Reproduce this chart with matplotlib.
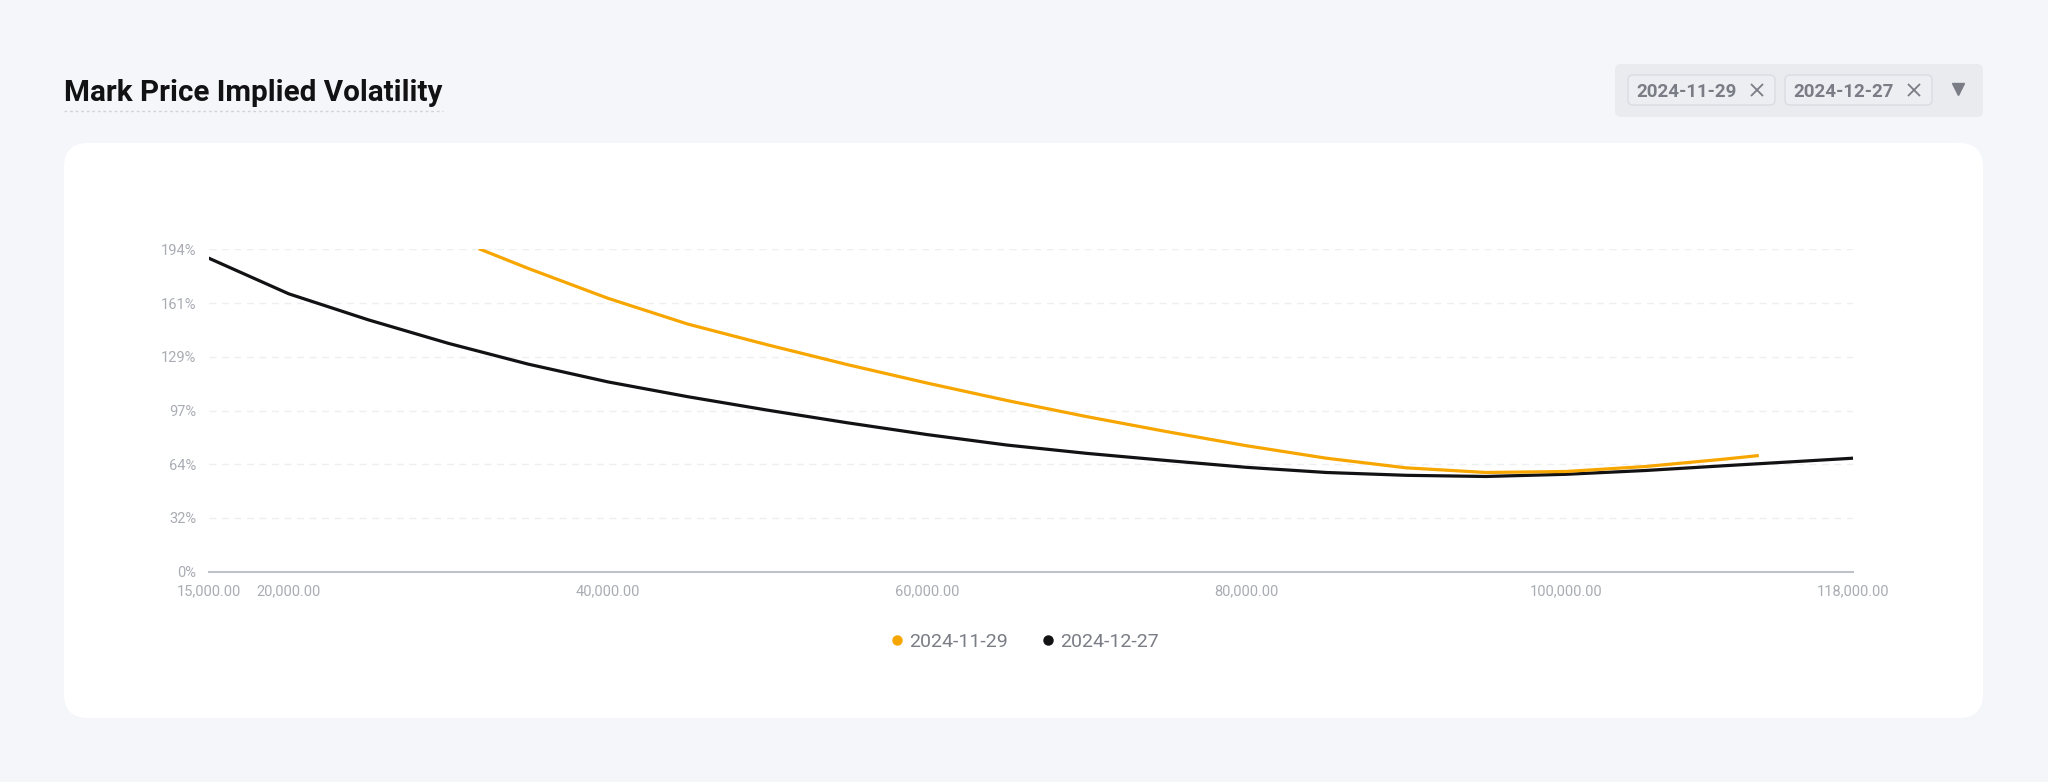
import matplotlib
matplotlib.use("Agg")
import matplotlib.pyplot as plt
from matplotlib.patches import FancyBboxPatch
from matplotlib.lines import Line2D

# strike prices and implied vol (%)
strikes_dec = [15000, 20000, 25000, 30000, 35000, 40000, 45000, 50000, 55000, 60000,
               65000, 70000, 75000, 80000, 85000, 90000, 95000, 100000, 105000, 110000,
               115000, 118000]
iv_dec = [188.6, 167.2, 151.5, 137.4, 124.9, 114.2, 105.3, 97.2, 89.6, 82.5,
          76.2, 71.2, 66.9, 62.8, 59.7, 58.0, 57.3, 58.6, 60.9, 63.8,
          66.6, 68.3]

strikes_nov = [32000, 35000, 40000, 45000, 50000, 55000, 60000, 65000, 70000, 75000,
               80000, 85000, 90000, 95000, 100000, 105000, 110000, 112000]
iv_nov = [194.0, 182.5, 164.5, 149.0, 136.5, 124.6, 113.5, 103.0, 93.3, 84.3,
          75.8, 68.3, 62.5, 59.7, 60.3, 63.3, 67.8, 69.8]

series_names = ["2024-11-29", "2024-12-27"]
series_colors = ["#F7A600", "#121214"]

y_ticks = [0, 32.33, 64.67, 97, 129.33, 161.67, 194]
y_labels = ["0%", "32%", "64%", "97%", "129%", "161%", "194%"]
x_ticks = [15000, 20000, 40000, 60000, 80000, 100000, 118000]

plt.rcParams['font.family'] = ['Roboto', 'DejaVu Sans']

W, H = 2048, 782
fig = plt.figure(figsize=(W / 100, H / 100), dpi=100)
fig.patch.set_facecolor("#f5f6fa")

# background / decoration layer in pixel coordinates
bg = fig.add_axes([0, 0, 1, 1], zorder=-1)
bg.set_xlim(0, W)
bg.set_ylim(H, 0)
bg.axis("off")

card = FancyBboxPatch((64, 143), 1919, 575, boxstyle="round,pad=0,rounding_size=24",
                      facecolor="white", edgecolor="none")
bg.add_patch(card)

bg.text(64, 101, "Mark Price Implied Volatility", fontsize=21.3, fontweight="bold",
        color="#121214", ha="left", va="baseline")
bg.plot([64, 443], [111, 111], color="#d0d3d9", lw=1, ls=(0, (2, 2)))

# expiry selector
sel = FancyBboxPatch((1615, 64), 368, 53, boxstyle="round,pad=0,rounding_size=6",
                     facecolor="#e9ebef", edgecolor="none")
bg.add_patch(sel)
for i, name in enumerate(series_names):
    x0 = 1628 + i * 157
    tag = FancyBboxPatch((x0, 75), 147, 30, boxstyle="round,pad=0,rounding_size=5",
                         facecolor="#eceef2", edgecolor="#d9dce1", lw=1)
    bg.add_patch(tag)
    bg.text(x0 + 8, 97, name, fontsize=13.5, fontweight="bold", color="#7a7d85",
            ha="left", va="baseline")
    bg.plot([x0 + 129], [90], marker="x", ms=9, mew=1.3, color="#7a7d85", ls="none")
bg.plot([1958], [89], marker="v", ms=8, color="#7a7d85", ls="none")

# chart
ax = fig.add_axes([209 / W, 1 - 571.7 / H, 1644 / W, 322.4 / H])
ax.set_facecolor("none")
ax.plot(strikes_dec, iv_dec, color=series_colors[1], lw=2.3, solid_joinstyle="round", zorder=3)
ax.plot(strikes_nov, iv_nov, color=series_colors[0], lw=2.3, solid_joinstyle="round", zorder=4)

ax.set_xlim(15000, 118000)
ax.set_ylim(0, 194)
ax.set_yticks(y_ticks)
ax.set_yticklabels(y_labels)
ax.set_xticks(x_ticks)
ax.set_xticklabels([f"{v:,.2f}" for v in x_ticks])
ax.tick_params(axis="both", length=0, labelsize=10.5, labelcolor="#a9acb3")
ax.tick_params(axis="y", pad=9)
ax.tick_params(axis="x", pad=9)

for s in ["top", "right", "left"]:
    ax.spines[s].set_visible(False)
ax.spines["bottom"].set_color("#bfc2c8")
ax.spines["bottom"].set_linewidth(1.5)
ax.grid(axis="y", color="#eeeff1", ls=(0, (5, 4)), lw=1)
ax.grid(axis="x", visible=False)
ax.set_axisbelow(True)

handles = [Line2D([], [], ls="none", marker="o", ms=6.5, color=c) for c in series_colors]
fig.legend(handles, series_names, loc="center", bbox_to_anchor=(1023 / W, 1 - 642 / H),
           ncol=2, frameon=False, fontsize=14, labelcolor="#7a7d85",
           handletextpad=0.1, columnspacing=1.6, handlelength=1.0)

fig.savefig("out.png", dpi=100, facecolor=fig.get_facecolor())
